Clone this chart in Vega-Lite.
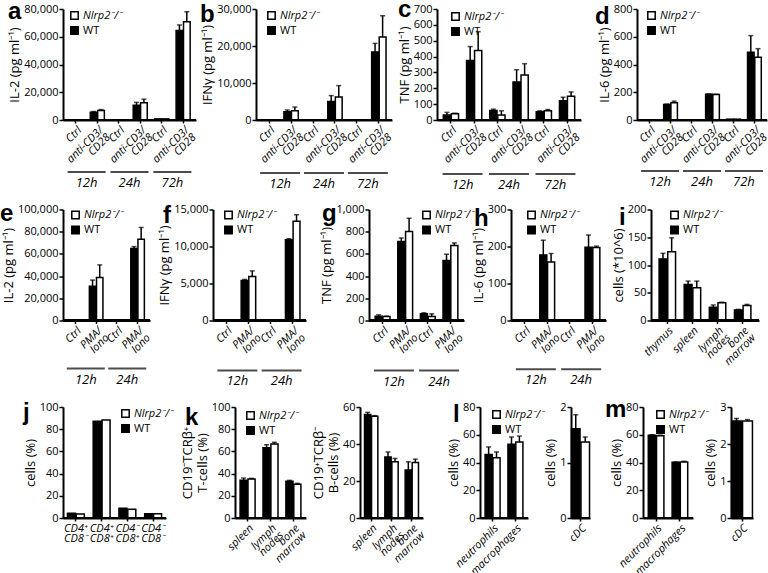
{
"$schema":"https://vega.github.io/schema/vega-lite/v6.json",
"padding":{"left":0,"top":-2,"right":0,"bottom":0},
"data":{"values":[
{"p":"a","c":"12h|Ctrl","t":"12h","g":"WT","v":0,"u":0},
{"p":"a","c":"12h|Ctrl","t":"12h","g":"KO","v":0,"u":0},
{"p":"a","c":"12h|anti-CD3/~CD28","t":"12h","g":"WT","v":5500,"u":6100},
{"p":"a","c":"12h|anti-CD3/~CD28","t":"12h","g":"KO","v":6800,"u":7500},
{"p":"a","c":"24h|Ctrl","t":"24h","g":"WT","v":0,"u":0},
{"p":"a","c":"24h|Ctrl","t":"24h","g":"KO","v":0,"u":0},
{"p":"a","c":"24h|anti-CD3/~CD28","t":"24h","g":"WT","v":10700,"u":12700},
{"p":"a","c":"24h|anti-CD3/~CD28","t":"24h","g":"KO","v":12400,"u":15000},
{"p":"a","c":"72h|Ctrl","t":"72h","g":"WT","v":800,"u":800},
{"p":"a","c":"72h|Ctrl","t":"72h","g":"KO","v":800,"u":800},
{"p":"a","c":"72h|anti-CD3/~CD28","t":"72h","g":"WT","v":64500,"u":68500},
{"p":"a","c":"72h|anti-CD3/~CD28","t":"72h","g":"KO","v":70900,"u":78000},
{"p":"b","c":"12h|Ctrl","t":"12h","g":"WT","v":0,"u":0},
{"p":"b","c":"12h|Ctrl","t":"12h","g":"KO","v":0,"u":0},
{"p":"b","c":"12h|anti-CD3/~CD28","t":"12h","g":"WT","v":2200,"u":2700},
{"p":"b","c":"12h|anti-CD3/~CD28","t":"12h","g":"KO","v":2500,"u":3500},
{"p":"b","c":"24h|Ctrl","t":"24h","g":"WT","v":0,"u":0},
{"p":"b","c":"24h|Ctrl","t":"24h","g":"KO","v":0,"u":0},
{"p":"b","c":"24h|anti-CD3/~CD28","t":"24h","g":"WT","v":5000,"u":6600},
{"p":"b","c":"24h|anti-CD3/~CD28","t":"24h","g":"KO","v":6200,"u":9300},
{"p":"b","c":"72h|Ctrl","t":"72h","g":"WT","v":0,"u":0},
{"p":"b","c":"72h|Ctrl","t":"72h","g":"KO","v":0,"u":0},
{"p":"b","c":"72h|anti-CD3/~CD28","t":"72h","g":"WT","v":18400,"u":20700},
{"p":"b","c":"72h|anti-CD3/~CD28","t":"72h","g":"KO","v":22400,"u":28200},
{"p":"c","c":"12h|Ctrl","t":"12h","g":"WT","v":31,"u":48},
{"p":"c","c":"12h|Ctrl","t":"12h","g":"KO","v":40,"u":43},
{"p":"c","c":"12h|anti-CD3/~CD28","t":"12h","g":"WT","v":376,"u":463},
{"p":"c","c":"12h|anti-CD3/~CD28","t":"12h","g":"KO","v":438,"u":557},
{"p":"c","c":"24h|Ctrl","t":"24h","g":"WT","v":60,"u":68},
{"p":"c","c":"24h|Ctrl","t":"24h","g":"KO","v":31,"u":58},
{"p":"c","c":"24h|anti-CD3/~CD28","t":"24h","g":"WT","v":240,"u":317},
{"p":"c","c":"24h|anti-CD3/~CD28","t":"24h","g":"KO","v":284,"u":355},
{"p":"c","c":"72h|Ctrl","t":"72h","g":"WT","v":52,"u":58},
{"p":"c","c":"72h|Ctrl","t":"72h","g":"KO","v":58,"u":66},
{"p":"c","c":"72h|anti-CD3/~CD28","t":"72h","g":"WT","v":121,"u":144},
{"p":"c","c":"72h|anti-CD3/~CD28","t":"72h","g":"KO","v":150,"u":177},
{"p":"d","c":"12h|Ctrl","t":"12h","g":"WT","v":0,"u":0},
{"p":"d","c":"12h|Ctrl","t":"12h","g":"KO","v":0,"u":0},
{"p":"d","c":"12h|anti-CD3/~CD28","t":"12h","g":"WT","v":111,"u":115},
{"p":"d","c":"12h|anti-CD3/~CD28","t":"12h","g":"KO","v":125,"u":136},
{"p":"d","c":"24h|Ctrl","t":"24h","g":"WT","v":0,"u":0},
{"p":"d","c":"24h|Ctrl","t":"24h","g":"KO","v":0,"u":0},
{"p":"d","c":"24h|anti-CD3/~CD28","t":"24h","g":"WT","v":186,"u":188},
{"p":"d","c":"24h|anti-CD3/~CD28","t":"24h","g":"KO","v":184,"u":186},
{"p":"d","c":"72h|Ctrl","t":"72h","g":"WT","v":6,"u":6},
{"p":"d","c":"72h|Ctrl","t":"72h","g":"KO","v":6,"u":6},
{"p":"d","c":"72h|anti-CD3/~CD28","t":"72h","g":"WT","v":488,"u":608},
{"p":"d","c":"72h|anti-CD3/~CD28","t":"72h","g":"KO","v":453,"u":514},
{"p":"e","c":"12h|Ctrl","t":"12h","g":"WT","v":0,"u":0},
{"p":"e","c":"12h|Ctrl","t":"12h","g":"KO","v":0,"u":0},
{"p":"e","c":"12h|PMA/~Iono","t":"12h","g":"WT","v":30750,"u":36400},
{"p":"e","c":"12h|PMA/~Iono","t":"12h","g":"KO","v":38800,"u":50100},
{"p":"e","c":"24h|Ctrl","t":"24h","g":"WT","v":0,"u":0},
{"p":"e","c":"24h|Ctrl","t":"24h","g":"KO","v":0,"u":0},
{"p":"e","c":"24h|PMA/~Iono","t":"24h","g":"WT","v":64800,"u":66600},
{"p":"e","c":"24h|PMA/~Iono","t":"24h","g":"KO","v":73100,"u":83800},
{"p":"f","c":"12h|Ctrl","t":"12h","g":"WT","v":0,"u":0},
{"p":"f","c":"12h|Ctrl","t":"12h","g":"KO","v":0,"u":0},
{"p":"f","c":"12h|PMA/~Iono","t":"12h","g":"WT","v":5400,"u":5550},
{"p":"f","c":"12h|PMA/~Iono","t":"12h","g":"KO","v":5950,"u":6700},
{"p":"f","c":"24h|Ctrl","t":"24h","g":"WT","v":0,"u":0},
{"p":"f","c":"24h|Ctrl","t":"24h","g":"KO","v":0,"u":0},
{"p":"f","c":"24h|PMA/~Iono","t":"24h","g":"WT","v":10900,"u":11050},
{"p":"f","c":"24h|PMA/~Iono","t":"24h","g":"KO","v":13400,"u":14300},
{"p":"g","c":"12h|Ctrl","t":"12h","g":"WT","v":39,"u":51},
{"p":"g","c":"12h|Ctrl","t":"12h","g":"KO","v":36,"u":39},
{"p":"g","c":"12h|PMA/~Iono","t":"12h","g":"WT","v":711,"u":744},
{"p":"g","c":"12h|PMA/~Iono","t":"12h","g":"KO","v":801,"u":921},
{"p":"g","c":"24h|Ctrl","t":"24h","g":"WT","v":60,"u":69},
{"p":"g","c":"24h|Ctrl","t":"24h","g":"KO","v":36,"u":60},
{"p":"g","c":"24h|PMA/~Iono","t":"24h","g":"WT","v":540,"u":597},
{"p":"g","c":"24h|PMA/~Iono","t":"24h","g":"KO","v":675,"u":699},
{"p":"h","c":"12h|Ctrl","t":"12h","g":"WT","v":0,"u":0},
{"p":"h","c":"12h|Ctrl","t":"12h","g":"KO","v":0,"u":0},
{"p":"h","c":"12h|PMA/~Iono","t":"12h","g":"WT","v":177,"u":217},
{"p":"h","c":"12h|PMA/~Iono","t":"12h","g":"KO","v":158,"u":181},
{"p":"h","c":"24h|Ctrl","t":"24h","g":"WT","v":0,"u":0},
{"p":"h","c":"24h|Ctrl","t":"24h","g":"KO","v":0,"u":0},
{"p":"h","c":"24h|PMA/~Iono","t":"24h","g":"WT","v":198,"u":231},
{"p":"h","c":"24h|PMA/~Iono","t":"24h","g":"KO","v":197,"u":201},
{"p":"i","c":"thymus","g":"WT","v":111,"u":121},
{"p":"i","c":"thymus","g":"KO","v":124,"u":149},
{"p":"i","c":"spleen","g":"WT","v":65,"u":71},
{"p":"i","c":"spleen","g":"KO","v":59,"u":71},
{"p":"i","c":"lymph~nodes","g":"WT","v":24,"u":28},
{"p":"i","c":"lymph~nodes","g":"KO","v":32,"u":33},
{"p":"i","c":"bone~marrow","g":"WT","v":19,"u":20},
{"p":"i","c":"bone~marrow","g":"KO","v":27,"u":29},
{"p":"j","c":"CD4⁺~CD8⁻","g":"WT","v":4.2,"u":4.2},
{"p":"j","c":"CD4⁺~CD8⁻","g":"KO","v":3.6,"u":3.6},
{"p":"j","c":"CD4⁺~CD8⁺","g":"WT","v":87.1,"u":87.1},
{"p":"j","c":"CD4⁺~CD8⁺","g":"KO","v":88.3,"u":88.3},
{"p":"j","c":"CD4⁻~CD8⁺","g":"WT","v":8.7,"u":8.7},
{"p":"j","c":"CD4⁻~CD8⁺","g":"KO","v":7.8,"u":7.8},
{"p":"j","c":"CD4⁻~CD8⁻","g":"WT","v":3.9,"u":3.9},
{"p":"j","c":"CD4⁻~CD8⁻","g":"KO","v":3.9,"u":3.9},
{"p":"k","c":"spleen","g":"WT","v":33.9,"u":36},
{"p":"k","c":"spleen","g":"KO","v":35.1,"u":35.7},
{"p":"k","c":"lymph~nodes","g":"WT","v":63.4,"u":66.1},
{"p":"k","c":"lymph~nodes","g":"KO","v":66.7,"u":68.2},
{"p":"k","c":"bone~marrow","g":"WT","v":33,"u":33.9},
{"p":"k","c":"bone~marrow","g":"KO","v":30.3,"u":31.2},
{"p":"k2","c":"spleen","g":"WT","v":55.9,"u":57.1},
{"p":"k2","c":"spleen","g":"KO","v":55,"u":55.3},
{"p":"k2","c":"lymph~nodes","g":"WT","v":33,"u":35.7},
{"p":"k2","c":"lymph~nodes","g":"KO","v":30.4,"u":32.2},
{"p":"k2","c":"bone~marrow","g":"WT","v":25.9,"u":30.4},
{"p":"k2","c":"bone~marrow","g":"KO","v":30,"u":31.8},
{"p":"l","c":"neutrophils","g":"WT","v":45.7,"u":51.2},
{"p":"l","c":"neutrophils","g":"KO","v":43.5,"u":47.6},
{"p":"l","c":"macrophages","g":"WT","v":53.1,"u":58.4},
{"p":"l","c":"macrophages","g":"KO","v":54.8,"u":59.1},
{"p":"l2","c":"cDC","g":"WT","v":1.61,"u":1.86},
{"p":"l2","c":"cDC","g":"KO","v":1.37,"u":1.46},
{"p":"m","c":"neutrophils","g":"WT","v":59.6,"u":60},
{"p":"m","c":"neutrophils","g":"KO","v":59.3,"u":59.7},
{"p":"m","c":"macrophages","g":"WT","v":40.1,"u":40.4},
{"p":"m","c":"macrophages","g":"KO","v":40.4,"u":40.9},
{"p":"m2","c":"cDC","g":"WT","v":2.62,"u":2.69},
{"p":"m2","c":"cDC","g":"KO","v":2.62,"u":2.66}
]},
"config":{
 "font":"Open Sans",
 "view":{"stroke":null},
 "axis":{"domain":true,"domainColor":"black","domainWidth":2,"ticks":true,"tickColor":"black","tickWidth":1.5,"tickSize":4,"labelColor":"black","titleColor":"black","labelFontSize":11,"titleFontSize":13,"titleFontWeight":"normal","grid":false,"labelPadding":2,"titlePadding":4},
 "axisY":{"labelPadding":1,"titlePadding":2},
 "axisX":{"labelFontStyle":"italic","labelFontSize":11,"labelLineHeight":10,"tickSize":3,"labelPadding":1},
 "legend":{"orient":"none","symbolType":"square","symbolSize":55,"symbolStrokeColor":"black","symbolStrokeWidth":1.5,"labelFontSize":11,"labelOffset":3,"rowPadding":0,"padding":0,"labelColor":"black","labelFontStyle":{"expr":"datum.value=='KO'?'italic':'normal'"}},
 "title":{"color":"black"}
},
"spacing":8.5,
"resolve":{"scale":{"fill":"independent","xOffset":"independent"},"legend":{"fill":"independent"}},
"vconcat":[
{"bounds":"flush","spacing":0,"resolve":{"scale":{"fill":"independent","xOffset":"independent"},"legend":{"fill":"independent"}},"hconcat":[
   {"width":133,"height":111,
    "title":{"text":"a","frame":"group","anchor":"start","orient":"none","offset":0,"baseline":"alphabetic","dx":-55,"dy":10,"fontSize":24,"fontWeight":"bold","font":"Liberation Sans"},
    "transform":[{"filter":"datum.p=='a'"}],
    "resolve":{"scale":{"x":"independent","y":"independent"}},
    "layer":[
     {"encoding":{"x":{"field":"c","type":"nominal","sort":null,"scale":{"paddingInner":0,"paddingOuter":0.1},"axis":{"title":null,"labelAngle":-45,"labelExpr":"split(split(datum.label,'|')[1],'~')"}},
                  "xOffset":{"field":"g","type":"nominal","sort":["WT","KO"],"scale":{"paddingInner":0.1,"paddingOuter":0.5}},
                  "y":{"field":"v","type":"quantitative","scale":{"domain":[0,80000],"nice":false},"axis":{"values":[0,20000,40000,60000,80000],"labelExpr":"format(datum.value, ',')","title":"IL-2 (pg ml⁻¹)"}}},
      "layer":[
       {"mark":{"type":"bar","stroke":"black","strokeWidth":1.5},"encoding":{"fill":{"field":"g","type":"nominal","scale":{"domain":["KO","WT"],"range":["white","black"]},"legend":{"title":null,"legendX":6,"legendY":1,"labelExpr":"datum.value=='KO'?'Nlrp2⁻/⁻':'WT'"}}}},
       {"transform":[{"filter":"datum.u > datum.v"}],"mark":{"type":"rule","strokeWidth":1.5,"color":"black"},"encoding":{"y2":{"field":"u"}}},
       {"transform":[{"filter":"datum.u > datum.v"}],"mark":{"type":"tick","thickness":1.5,"size":5,"color":"black"},"encoding":{"y":{"field":"u","type":"quantitative","scale":{"domain":[0,80000],"nice":false},"axis":{"values":[0,20000,40000,60000,80000],"labelExpr":"format(datum.value, ',')","title":"IL-2 (pg ml⁻¹)"}}}}
      ]},
     {"transform":[{"aggregate":[{"op":"count","as":"n"}],"groupby":["t"]}],
      "encoding":{"x":{"field":"t","type":"nominal","sort":["12h","24h","72h"],"axis":null,"scale":{"paddingInner":0,"paddingOuter":0.05}}},
      "layer":[
       {"mark":{"type":"tick","thickness":2,"size":38,"color":"black","clip":false},"encoding":{"y":{"datum":-37500,"type":"quantitative","scale":{"domain":[0,80000],"nice":false},"axis":null}}},
       {"mark":{"type":"text","fontStyle":"italic","fontSize":13,"baseline":"middle","clip":false},"encoding":{"y":{"datum":-45400,"type":"quantitative","scale":{"domain":[0,80000],"nice":false},"axis":null},"text":{"field":"t"}}}
      ]},
     {"mark":{"type":"rule","strokeWidth":2,"color":"black"},"encoding":{"y":{"datum":0,"type":"quantitative","scale":{"domain":[0,80000],"nice":false},"axis":null}}}
    ]},
   {"data":{"values":[{}]},"width":60,"height":111,"mark":{"type":"point","opacity":0},"encoding":{}},
   {"width":136,"height":111,
    "title":{"text":"b","frame":"group","anchor":"start","orient":"none","offset":0,"baseline":"alphabetic","dx":-56,"dy":13,"fontSize":24,"fontWeight":"bold","font":"Liberation Sans"},
    "transform":[{"filter":"datum.p=='b'"}],
    "resolve":{"scale":{"x":"independent","y":"independent"}},
    "layer":[
     {"encoding":{"x":{"field":"c","type":"nominal","sort":null,"scale":{"paddingInner":0,"paddingOuter":0.1},"axis":{"title":null,"labelAngle":-45,"labelExpr":"split(split(datum.label,'|')[1],'~')"}},
                  "xOffset":{"field":"g","type":"nominal","sort":["WT","KO"],"scale":{"paddingInner":0.1,"paddingOuter":0.5}},
                  "y":{"field":"v","type":"quantitative","scale":{"domain":[0,30000],"nice":false},"axis":{"values":[0,10000,20000,30000],"labelExpr":"format(datum.value, ',')","title":"IFNγ (pg ml⁻¹)"}}},
      "layer":[
       {"mark":{"type":"bar","stroke":"black","strokeWidth":1.5},"encoding":{"fill":{"field":"g","type":"nominal","scale":{"domain":["KO","WT"],"range":["white","black"]},"legend":{"title":null,"legendX":10,"legendY":1,"labelExpr":"datum.value=='KO'?'Nlrp2⁻/⁻':'WT'"}}}},
       {"transform":[{"filter":"datum.u > datum.v"}],"mark":{"type":"rule","strokeWidth":1.5,"color":"black"},"encoding":{"y2":{"field":"u"}}},
       {"transform":[{"filter":"datum.u > datum.v"}],"mark":{"type":"tick","thickness":1.5,"size":5,"color":"black"},"encoding":{"y":{"field":"u","type":"quantitative","scale":{"domain":[0,30000],"nice":false},"axis":{"values":[0,10000,20000,30000],"labelExpr":"format(datum.value, ',')","title":"IFNγ (pg ml⁻¹)"}}}}
      ]},
     {"transform":[{"aggregate":[{"op":"count","as":"n"}],"groupby":["t"]}],
      "encoding":{"x":{"field":"t","type":"nominal","sort":["12h","24h","72h"],"axis":null,"scale":{"paddingInner":0,"paddingOuter":0.05}}},
      "layer":[
       {"mark":{"type":"tick","thickness":2,"size":40,"color":"black","clip":false},"encoding":{"y":{"datum":-14300,"type":"quantitative","scale":{"domain":[0,30000],"nice":false},"axis":null}}},
       {"mark":{"type":"text","fontStyle":"italic","fontSize":13,"baseline":"middle","clip":false},"encoding":{"y":{"datum":-17300,"type":"quantitative","scale":{"domain":[0,30000],"nice":false},"axis":null},"text":{"field":"t"}}}
      ]},
     {"mark":{"type":"rule","strokeWidth":2,"color":"black"},"encoding":{"y":{"datum":0,"type":"quantitative","scale":{"domain":[0,30000],"nice":false},"axis":null}}}
    ]},
   {"data":{"values":[{}]},"width":45,"height":111,"mark":{"type":"point","opacity":0},"encoding":{}},
   {"width":144,"height":111,
    "title":{"text":"c","frame":"group","anchor":"start","orient":"none","offset":0,"baseline":"alphabetic","dx":-39,"dy":8,"fontSize":24,"fontWeight":"bold","font":"Liberation Sans"},
    "transform":[{"filter":"datum.p=='c'"}],
    "resolve":{"scale":{"x":"independent","y":"independent"}},
    "layer":[
     {"encoding":{"x":{"field":"c","type":"nominal","sort":null,"scale":{"paddingInner":0,"paddingOuter":0.1},"axis":{"title":null,"labelAngle":-45,"labelExpr":"split(split(datum.label,'|')[1],'~')"}},
                  "xOffset":{"field":"g","type":"nominal","sort":["WT","KO"],"scale":{"paddingInner":0.1,"paddingOuter":0.5}},
                  "y":{"field":"v","type":"quantitative","scale":{"domain":[0,700],"nice":false},"axis":{"values":[0,100,200,300,400,500,600,700],"labelExpr":"format(datum.value, ',')","title":"TNF (pg ml⁻¹)"}}},
      "layer":[
       {"mark":{"type":"bar","stroke":"black","strokeWidth":1.5},"encoding":{"fill":{"field":"g","type":"nominal","scale":{"domain":["KO","WT"],"range":["white","black"]},"legend":{"title":null,"legendX":13,"legendY":2,"labelExpr":"datum.value=='KO'?'Nlrp2⁻/⁻':'WT'"}}}},
       {"transform":[{"filter":"datum.u > datum.v"}],"mark":{"type":"rule","strokeWidth":1.5,"color":"black"},"encoding":{"y2":{"field":"u"}}},
       {"transform":[{"filter":"datum.u > datum.v"}],"mark":{"type":"tick","thickness":1.5,"size":5,"color":"black"},"encoding":{"y":{"field":"u","type":"quantitative","scale":{"domain":[0,700],"nice":false},"axis":{"values":[0,100,200,300,400,500,600,700],"labelExpr":"format(datum.value, ',')","title":"TNF (pg ml⁻¹)"}}}}
      ]},
     {"transform":[{"aggregate":[{"op":"count","as":"n"}],"groupby":["t"]}],
      "encoding":{"x":{"field":"t","type":"nominal","sort":["12h","24h","72h"],"axis":null,"scale":{"paddingInner":0,"paddingOuter":0.05}}},
      "layer":[
       {"mark":{"type":"tick","thickness":2,"size":40,"color":"black","clip":false},"encoding":{"y":{"datum":-340,"type":"quantitative","scale":{"domain":[0,700],"nice":false},"axis":null}}},
       {"mark":{"type":"text","fontStyle":"italic","fontSize":13,"baseline":"middle","clip":false},"encoding":{"y":{"datum":-410,"type":"quantitative","scale":{"domain":[0,700],"nice":false},"axis":null},"text":{"field":"t"}}}
      ]},
     {"mark":{"type":"rule","strokeWidth":2,"color":"black"},"encoding":{"y":{"datum":0,"type":"quantitative","scale":{"domain":[0,700],"nice":false},"axis":null}}}
    ]},
   {"data":{"values":[{}]},"width":56,"height":111,"mark":{"type":"point","opacity":0},"encoding":{}},
   {"width":130,"height":111,
    "title":{"text":"d","frame":"group","anchor":"start","orient":"none","offset":0,"baseline":"alphabetic","dx":-42,"dy":15,"fontSize":24,"fontWeight":"bold","font":"Liberation Sans"},
    "transform":[{"filter":"datum.p=='d'"}],
    "resolve":{"scale":{"x":"independent","y":"independent"}},
    "layer":[
     {"encoding":{"x":{"field":"c","type":"nominal","sort":null,"scale":{"paddingInner":0,"paddingOuter":0.1},"axis":{"title":null,"labelAngle":-45,"labelExpr":"split(split(datum.label,'|')[1],'~')"}},
                  "xOffset":{"field":"g","type":"nominal","sort":["WT","KO"],"scale":{"paddingInner":0.1,"paddingOuter":0.5}},
                  "y":{"field":"v","type":"quantitative","scale":{"domain":[0,800],"nice":false},"axis":{"values":[0,200,400,600,800],"labelExpr":"format(datum.value, ',')","title":"IL-6 (pg ml⁻¹)"}}},
      "layer":[
       {"mark":{"type":"bar","stroke":"black","strokeWidth":1.5},"encoding":{"fill":{"field":"g","type":"nominal","scale":{"domain":["KO","WT"],"range":["white","black"]},"legend":{"title":null,"legendX":9,"legendY":1,"labelExpr":"datum.value=='KO'?'Nlrp2⁻/⁻':'WT'"}}}},
       {"transform":[{"filter":"datum.u > datum.v"}],"mark":{"type":"rule","strokeWidth":1.5,"color":"black"},"encoding":{"y2":{"field":"u"}}},
       {"transform":[{"filter":"datum.u > datum.v"}],"mark":{"type":"tick","thickness":1.5,"size":5,"color":"black"},"encoding":{"y":{"field":"u","type":"quantitative","scale":{"domain":[0,800],"nice":false},"axis":{"values":[0,200,400,600,800],"labelExpr":"format(datum.value, ',')","title":"IL-6 (pg ml⁻¹)"}}}}
      ]},
     {"transform":[{"aggregate":[{"op":"count","as":"n"}],"groupby":["t"]}],
      "encoding":{"x":{"field":"t","type":"nominal","sort":["12h","24h","72h"],"axis":null,"scale":{"paddingInner":0,"paddingOuter":0.05}}},
      "layer":[
       {"mark":{"type":"tick","thickness":2,"size":38,"color":"black","clip":false},"encoding":{"y":{"datum":-368,"type":"quantitative","scale":{"domain":[0,800],"nice":false},"axis":null}}},
       {"mark":{"type":"text","fontStyle":"italic","fontSize":13,"baseline":"middle","clip":false},"encoding":{"y":{"datum":-447,"type":"quantitative","scale":{"domain":[0,800],"nice":false},"axis":null},"text":{"field":"t"}}}
      ]},
     {"mark":{"type":"rule","strokeWidth":2,"color":"black"},"encoding":{"y":{"datum":0,"type":"quantitative","scale":{"domain":[0,800],"nice":false},"axis":null}}}
    ]}
]},
{"bounds":"flush","spacing":0,"resolve":{"scale":{"fill":"independent","xOffset":"independent"},"legend":{"fill":"independent"}},"hconcat":[
   {"width":87,"height":111,
    "title":{"text":"e","frame":"group","anchor":"start","orient":"none","offset":0,"baseline":"alphabetic","dx":-63,"dy":11,"fontSize":24,"fontWeight":"bold","font":"Liberation Sans"},
    "transform":[{"filter":"datum.p=='e'"}],
    "resolve":{"scale":{"x":"independent","y":"independent"}},
    "layer":[
     {"encoding":{"x":{"field":"c","type":"nominal","sort":null,"scale":{"paddingInner":0,"paddingOuter":0.1},"axis":{"title":null,"labelAngle":-45,"labelExpr":"split(split(datum.label,'|')[1],'~')"}},
                  "xOffset":{"field":"g","type":"nominal","sort":["WT","KO"],"scale":{"paddingInner":0.1,"paddingOuter":0.5}},
                  "y":{"field":"v","type":"quantitative","scale":{"domain":[0,100000],"nice":false},"axis":{"values":[0,20000,40000,60000,80000,100000],"labelExpr":"format(datum.value, ',')","title":"IL-2 (pg ml⁻¹)"}}},
      "layer":[
       {"mark":{"type":"bar","stroke":"black","strokeWidth":1.5},"encoding":{"fill":{"field":"g","type":"nominal","scale":{"domain":["KO","WT"],"range":["white","black"]},"legend":{"title":null,"legendX":7,"legendY":0,"labelExpr":"datum.value=='KO'?'Nlrp2⁻/⁻':'WT'"}}}},
       {"transform":[{"filter":"datum.u > datum.v"}],"mark":{"type":"rule","strokeWidth":1.5,"color":"black"},"encoding":{"y2":{"field":"u"}}},
       {"transform":[{"filter":"datum.u > datum.v"}],"mark":{"type":"tick","thickness":1.5,"size":5,"color":"black"},"encoding":{"y":{"field":"u","type":"quantitative","scale":{"domain":[0,100000],"nice":false},"axis":{"values":[0,20000,40000,60000,80000,100000],"labelExpr":"format(datum.value, ',')","title":"IL-2 (pg ml⁻¹)"}}}}
      ]},
     {"transform":[{"aggregate":[{"op":"count","as":"n"}],"groupby":["t"]}],
      "encoding":{"x":{"field":"t","type":"nominal","sort":["12h","24h"],"axis":null,"scale":{"paddingInner":0,"paddingOuter":0.05}}},
      "layer":[
       {"mark":{"type":"tick","thickness":2,"size":38,"color":"black","clip":false},"encoding":{"y":{"datum":-43200,"type":"quantitative","scale":{"domain":[0,100000],"nice":false},"axis":null}}},
       {"mark":{"type":"text","fontStyle":"italic","fontSize":13,"baseline":"middle","clip":false},"encoding":{"y":{"datum":-53200,"type":"quantitative","scale":{"domain":[0,100000],"nice":false},"axis":null},"text":{"field":"t"}}}
      ]},
     {"mark":{"type":"rule","strokeWidth":2,"color":"black"},"encoding":{"y":{"datum":0,"type":"quantitative","scale":{"domain":[0,100000],"nice":false},"axis":null}}}
    ]},
   {"data":{"values":[{}]},"width":63,"height":111,"mark":{"type":"point","opacity":0},"encoding":{}},
   {"width":93,"height":111,
    "title":{"text":"f","frame":"group","anchor":"start","orient":"none","offset":0,"baseline":"alphabetic","dx":-50,"dy":13,"fontSize":24,"fontWeight":"bold","font":"Liberation Sans"},
    "transform":[{"filter":"datum.p=='f'"}],
    "resolve":{"scale":{"x":"independent","y":"independent"}},
    "layer":[
     {"encoding":{"x":{"field":"c","type":"nominal","sort":null,"scale":{"paddingInner":0,"paddingOuter":0.1},"axis":{"title":null,"labelAngle":-45,"labelExpr":"split(split(datum.label,'|')[1],'~')"}},
                  "xOffset":{"field":"g","type":"nominal","sort":["WT","KO"],"scale":{"paddingInner":0.1,"paddingOuter":0.5}},
                  "y":{"field":"v","type":"quantitative","scale":{"domain":[0,15000],"nice":false},"axis":{"values":[0,5000,10000,15000],"labelExpr":"format(datum.value, ',')","title":"IFNγ (pg ml⁻¹)"}}},
      "layer":[
       {"mark":{"type":"bar","stroke":"black","strokeWidth":1.5},"encoding":{"fill":{"field":"g","type":"nominal","scale":{"domain":["KO","WT"],"range":["white","black"]},"legend":{"title":null,"legendX":10,"legendY":0,"labelExpr":"datum.value=='KO'?'Nlrp2⁻/⁻':'WT'"}}}},
       {"transform":[{"filter":"datum.u > datum.v"}],"mark":{"type":"rule","strokeWidth":1.5,"color":"black"},"encoding":{"y2":{"field":"u"}}},
       {"transform":[{"filter":"datum.u > datum.v"}],"mark":{"type":"tick","thickness":1.5,"size":5,"color":"black"},"encoding":{"y":{"field":"u","type":"quantitative","scale":{"domain":[0,15000],"nice":false},"axis":{"values":[0,5000,10000,15000],"labelExpr":"format(datum.value, ',')","title":"IFNγ (pg ml⁻¹)"}}}}
      ]},
     {"transform":[{"aggregate":[{"op":"count","as":"n"}],"groupby":["t"]}],
      "encoding":{"x":{"field":"t","type":"nominal","sort":["12h","24h"],"axis":null,"scale":{"paddingInner":0,"paddingOuter":0.05}}},
      "layer":[
       {"mark":{"type":"tick","thickness":2,"size":40,"color":"black","clip":false},"encoding":{"y":{"datum":-6760,"type":"quantitative","scale":{"domain":[0,15000],"nice":false},"axis":null}}},
       {"mark":{"type":"text","fontStyle":"italic","fontSize":13,"baseline":"middle","clip":false},"encoding":{"y":{"datum":-8240,"type":"quantitative","scale":{"domain":[0,15000],"nice":false},"axis":null},"text":{"field":"t"}}}
      ]},
     {"mark":{"type":"rule","strokeWidth":2,"color":"black"},"encoding":{"y":{"datum":0,"type":"quantitative","scale":{"domain":[0,15000],"nice":false},"axis":null}}}
    ]},
   {"data":{"values":[{}]},"width":63,"height":111,"mark":{"type":"point","opacity":0},"encoding":{}},
   {"width":95,"height":111,
    "title":{"text":"g","frame":"group","anchor":"start","orient":"none","offset":0,"baseline":"alphabetic","dx":-47,"dy":11,"fontSize":24,"fontWeight":"bold","font":"Liberation Sans"},
    "transform":[{"filter":"datum.p=='g'"}],
    "resolve":{"scale":{"x":"independent","y":"independent"}},
    "layer":[
     {"encoding":{"x":{"field":"c","type":"nominal","sort":null,"scale":{"paddingInner":0,"paddingOuter":0.1},"axis":{"title":null,"labelAngle":-45,"labelExpr":"split(split(datum.label,'|')[1],'~')"}},
                  "xOffset":{"field":"g","type":"nominal","sort":["WT","KO"],"scale":{"paddingInner":0.1,"paddingOuter":0.5}},
                  "y":{"field":"v","type":"quantitative","scale":{"domain":[0,1000],"nice":false},"axis":{"values":[0,200,400,600,800,1000],"labelExpr":"format(datum.value, ',')","title":"TNF (pg ml⁻¹)"}}},
      "layer":[
       {"mark":{"type":"bar","stroke":"black","strokeWidth":1.5},"encoding":{"fill":{"field":"g","type":"nominal","scale":{"domain":["KO","WT"],"range":["white","black"]},"legend":{"title":null,"legendX":52,"legendY":0,"labelExpr":"datum.value=='KO'?'Nlrp2⁻/⁻':'WT'"}}}},
       {"transform":[{"filter":"datum.u > datum.v"}],"mark":{"type":"rule","strokeWidth":1.5,"color":"black"},"encoding":{"y2":{"field":"u"}}},
       {"transform":[{"filter":"datum.u > datum.v"}],"mark":{"type":"tick","thickness":1.5,"size":5,"color":"black"},"encoding":{"y":{"field":"u","type":"quantitative","scale":{"domain":[0,1000],"nice":false},"axis":{"values":[0,200,400,600,800,1000],"labelExpr":"format(datum.value, ',')","title":"TNF (pg ml⁻¹)"}}}}
      ]},
     {"transform":[{"aggregate":[{"op":"count","as":"n"}],"groupby":["t"]}],
      "encoding":{"x":{"field":"t","type":"nominal","sort":["12h","24h"],"axis":null,"scale":{"paddingInner":0,"paddingOuter":0.05}}},
      "layer":[
       {"mark":{"type":"tick","thickness":2,"size":40,"color":"black","clip":false},"encoding":{"y":{"datum":-450,"type":"quantitative","scale":{"domain":[0,1000],"nice":false},"axis":null}}},
       {"mark":{"type":"text","fontStyle":"italic","fontSize":13,"baseline":"middle","clip":false},"encoding":{"y":{"datum":-550,"type":"quantitative","scale":{"domain":[0,1000],"nice":false},"axis":null},"text":{"field":"t"}}}
      ]},
     {"mark":{"type":"rule","strokeWidth":2,"color":"black"},"encoding":{"y":{"datum":0,"type":"quantitative","scale":{"domain":[0,1000],"nice":false},"axis":null}}}
    ]},
   {"data":{"values":[{}]},"width":47,"height":111,"mark":{"type":"point","opacity":0},"encoding":{}},
   {"width":95,"height":111,
    "title":{"text":"h","frame":"group","anchor":"start","orient":"none","offset":0,"baseline":"alphabetic","dx":-37,"dy":16,"fontSize":24,"fontWeight":"bold","font":"Liberation Sans"},
    "transform":[{"filter":"datum.p=='h'"}],
    "resolve":{"scale":{"x":"independent","y":"independent"}},
    "layer":[
     {"encoding":{"x":{"field":"c","type":"nominal","sort":null,"scale":{"paddingInner":0,"paddingOuter":0.1},"axis":{"title":null,"labelAngle":-45,"labelExpr":"split(split(datum.label,'|')[1],'~')"}},
                  "xOffset":{"field":"g","type":"nominal","sort":["WT","KO"],"scale":{"paddingInner":0.1,"paddingOuter":0.5}},
                  "y":{"field":"v","type":"quantitative","scale":{"domain":[0,300],"nice":false},"axis":{"values":[0,100,200,300],"labelExpr":"format(datum.value, ',')","title":"IL-6 (pg ml⁻¹)"}}},
      "layer":[
       {"mark":{"type":"bar","stroke":"black","strokeWidth":1.5},"encoding":{"fill":{"field":"g","type":"nominal","scale":{"domain":["KO","WT"],"range":["white","black"]},"legend":{"title":null,"legendX":15,"legendY":0,"labelExpr":"datum.value=='KO'?'Nlrp2⁻/⁻':'WT'"}}}},
       {"transform":[{"filter":"datum.u > datum.v"}],"mark":{"type":"rule","strokeWidth":1.5,"color":"black"},"encoding":{"y2":{"field":"u"}}},
       {"transform":[{"filter":"datum.u > datum.v"}],"mark":{"type":"tick","thickness":1.5,"size":5,"color":"black"},"encoding":{"y":{"field":"u","type":"quantitative","scale":{"domain":[0,300],"nice":false},"axis":{"values":[0,100,200,300],"labelExpr":"format(datum.value, ',')","title":"IL-6 (pg ml⁻¹)"}}}}
      ]},
     {"transform":[{"aggregate":[{"op":"count","as":"n"}],"groupby":["t"]}],
      "encoding":{"x":{"field":"t","type":"nominal","sort":["12h","24h"],"axis":null,"scale":{"paddingInner":0,"paddingOuter":0.05}}},
      "layer":[
       {"mark":{"type":"tick","thickness":2,"size":40,"color":"black","clip":false},"encoding":{"y":{"datum":-132,"type":"quantitative","scale":{"domain":[0,300],"nice":false},"axis":null}}},
       {"mark":{"type":"text","fontStyle":"italic","fontSize":13,"baseline":"middle","clip":false},"encoding":{"y":{"datum":-162,"type":"quantitative","scale":{"domain":[0,300],"nice":false},"axis":null},"text":{"field":"t"}}}
      ]},
     {"mark":{"type":"rule","strokeWidth":2,"color":"black"},"encoding":{"y":{"datum":0,"type":"quantitative","scale":{"domain":[0,300],"nice":false},"axis":null}}}
    ]},
   {"data":{"values":[{}]},"width":45,"height":111,"mark":{"type":"point","opacity":0},"encoding":{}},
   {"width":108,"height":111,
    "title":{"text":"i","frame":"group","anchor":"start","orient":"none","offset":0,"baseline":"alphabetic","dx":-32,"dy":15,"fontSize":24,"fontWeight":"bold","font":"Liberation Sans"},
    "transform":[{"filter":"datum.p=='i'"}],
    "resolve":{"scale":{"y":"independent"}},
    "layer":[
     {"encoding":{"x":{"field":"c","type":"nominal","sort":null,"scale":{"paddingInner":0,"paddingOuter":0.15},"axis":{"title":null,"labelAngle":-45,"labelExpr":"split(datum.label,'~')"}},
                "xOffset":{"field":"g","type":"nominal","sort":["WT","KO"],"scale":{"paddingInner":0.1,"paddingOuter":0.5}},
                "y":{"field":"v","type":"quantitative","scale":{"domain":[0,200],"nice":false},"axis":{"values":[0,50,100,150,200],"labelExpr":"format(datum.value, ',')","title":"cells (*10^6)"}}},
      "layer":[
       {"mark":{"type":"bar","stroke":"black","strokeWidth":1.5},"encoding":{"fill":{"field":"g","type":"nominal","scale":{"domain":["KO","WT"],"range":["white","black"]},"legend":{"title":null,"legendX":18,"legendY":0,"labelExpr":"datum.value=='KO'?'Nlrp2⁻/⁻':'WT'"}}}},
       {"transform":[{"filter":"datum.u > datum.v"}],"mark":{"type":"rule","strokeWidth":1.5,"color":"black"},"encoding":{"y2":{"field":"u"}}},
       {"transform":[{"filter":"datum.u > datum.v"}],"mark":{"type":"tick","thickness":1.5,"size":5,"color":"black"},"encoding":{"y":{"field":"u","type":"quantitative","scale":{"domain":[0,200],"nice":false},"axis":{"values":[0,50,100,150,200],"labelExpr":"format(datum.value, ',')","title":"cells (*10^6)"}}}}
      ]},
     {"mark":{"type":"rule","strokeWidth":2,"color":"black"},"encoding":{"y":{"datum":0,"type":"quantitative","scale":{"domain":[0,200],"nice":false},"axis":null}}}
    ]}
]},
{"bounds":"flush","spacing":0,"resolve":{"scale":{"fill":"independent","xOffset":"independent"},"legend":{"fill":"independent"}},"hconcat":[
 {"width":103,"height":111,
  "title":{"text":"j","frame":"group","anchor":"start","orient":"none","offset":0,"baseline":"alphabetic","dx":-40,"dy":13,"fontSize":24,"fontWeight":"bold","font":"Liberation Sans"},
  "transform":[{"filter":"datum.p=='j'"}],
  "resolve":{"scale":{"y":"independent"}},
  "layer":[
   {"encoding":{"x":{"field":"c","type":"nominal","sort":null,"scale":{"paddingInner":0,"paddingOuter":0},"axis":{"title":null,"labelAngle":0,"labelExpr":"split(datum.label,'~')"}},
                "xOffset":{"field":"g","type":"nominal","sort":["WT","KO"],"scale":{"paddingInner":0.1,"paddingOuter":0.5}},
                "y":{"field":"v","type":"quantitative","scale":{"domain":[0,100],"nice":false},"axis":{"values":[0,20,40,60,80,100],"labelExpr":"format(datum.value, ',')","title":"cells (%)"}}},
    "layer":[
     {"mark":{"type":"bar","stroke":"black","strokeWidth":1.5},"encoding":{"fill":{"field":"g","type":"nominal","scale":{"domain":["KO","WT"],"range":["white","black"]},"legend":{"title":null,"legendX":57,"legendY":1,"labelExpr":"datum.value=='KO'?'Nlrp2⁻/⁻':'WT'"}}}}
    ]},
   {"mark":{"type":"rule","strokeWidth":2,"color":"black"},"encoding":{"y":{"datum":0,"type":"quantitative","scale":{"domain":[0,100],"nice":false},"axis":null}}}
  ]},
 {"data":{"values":[{}]},"width":69,"height":111,"mark":{"type":"point","opacity":0},"encoding":{}},
 {"width":71,"height":111,
  "title":{"text":"k","frame":"group","anchor":"start","orient":"none","offset":0,"baseline":"alphabetic","dx":-50,"dy":18,"fontSize":24,"fontWeight":"bold","font":"Liberation Sans"},
  "transform":[{"filter":"datum.p=='k'"}],
  "resolve":{"scale":{"y":"independent"}},
  "layer":[
   {"encoding":{"x":{"field":"c","type":"nominal","sort":null,"scale":{"paddingInner":0,"paddingOuter":0.05},"axis":{"title":null,"labelAngle":-45,"labelExpr":"split(datum.label,'~')"}},
                "xOffset":{"field":"g","type":"nominal","sort":["WT","KO"],"scale":{"paddingInner":0.1,"paddingOuter":0.5}},
                "y":{"field":"v","type":"quantitative","scale":{"domain":[0,100],"nice":false},"axis":{"values":[0,20,40,60,80,100],"labelExpr":"format(datum.value, ',')","title":["CD19⁻TCRβ⁺","T-cells (%)"]}}},
    "layer":[
     {"mark":{"type":"bar","stroke":"black","strokeWidth":1.5},"encoding":{"fill":{"field":"g","type":"nominal","scale":{"domain":["KO","WT"],"range":["white","black"]},"legend":{"title":null,"legendX":10,"legendY":3,"labelExpr":"datum.value=='KO'?'Nlrp2⁻/⁻':'WT'"}}}},
     {"transform":[{"filter":"datum.u > datum.v"}],"mark":{"type":"rule","strokeWidth":1.5,"color":"black"},"encoding":{"y2":{"field":"u"}}},
     {"transform":[{"filter":"datum.u > datum.v"}],"mark":{"type":"tick","thickness":1.5,"size":5,"color":"black"},"encoding":{"y":{"field":"u","type":"quantitative","scale":{"domain":[0,100],"nice":false},"axis":{"values":[0,20,40,60,80,100],"labelExpr":"format(datum.value, ',')","title":["CD19⁻TCRβ⁺","T-cells (%)"]}}}}
    ]},
   {"mark":{"type":"rule","strokeWidth":2,"color":"black"},"encoding":{"y":{"datum":0,"type":"quantitative","scale":{"domain":[0,100],"nice":false},"axis":null}}}
  ]},
 {"data":{"values":[{}]},"width":54,"height":111,"mark":{"type":"point","opacity":0},"encoding":{}},
 {"width":63,"height":111,
  "transform":[{"filter":"datum.p=='k2'"}],
  "resolve":{"scale":{"y":"independent"}},
  "layer":[
   {"encoding":{"x":{"field":"c","type":"nominal","sort":null,"scale":{"paddingInner":0,"paddingOuter":0.05},"axis":{"title":null,"labelAngle":-45,"labelExpr":"split(datum.label,'~')"}},
                "xOffset":{"field":"g","type":"nominal","sort":["WT","KO"],"scale":{"paddingInner":0.1,"paddingOuter":0.5}},
                "y":{"field":"v","type":"quantitative","scale":{"domain":[0,60],"nice":false},"axis":{"values":[0,20,40,60],"labelExpr":"format(datum.value, ',')","title":["CD19⁺TCRβ⁻","B-cells (%)"]}}},
    "layer":[
     {"mark":{"type":"bar","stroke":"black","strokeWidth":1.5},"encoding":{"fill":{"field":"g","type":"nominal","scale":{"domain":["KO","WT"],"range":["white","black"]},"legend":null}}},
     {"transform":[{"filter":"datum.u > datum.v"}],"mark":{"type":"rule","strokeWidth":1.5,"color":"black"},"encoding":{"y2":{"field":"u"}}},
     {"transform":[{"filter":"datum.u > datum.v"}],"mark":{"type":"tick","thickness":1.5,"size":5,"color":"black"},"encoding":{"y":{"field":"u","type":"quantitative","scale":{"domain":[0,60],"nice":false},"axis":{"values":[0,20,40,60],"labelExpr":"format(datum.value, ',')","title":["CD19⁺TCRβ⁻","B-cells (%)"]}}}}
    ]},
   {"mark":{"type":"rule","strokeWidth":2,"color":"black"},"encoding":{"y":{"datum":0,"type":"quantitative","scale":{"domain":[0,60],"nice":false},"axis":null}}}
  ]},
 {"data":{"values":[{}]},"width":57,"height":111,"mark":{"type":"point","opacity":0},"encoding":{}},
 {"width":48,"height":111,
  "title":{"text":"l","frame":"group","anchor":"start","orient":"none","offset":0,"baseline":"alphabetic","dx":-27,"dy":15,"fontSize":24,"fontWeight":"bold","font":"Liberation Sans"},
  "transform":[{"filter":"datum.p=='l'"}],
  "resolve":{"scale":{"y":"independent"}},
  "layer":[
   {"encoding":{"x":{"field":"c","type":"nominal","sort":null,"scale":{"paddingInner":0,"paddingOuter":0.05},"axis":{"title":null,"labelAngle":-45}},
                "xOffset":{"field":"g","type":"nominal","sort":["WT","KO"],"scale":{"paddingInner":0.1,"paddingOuter":0.5}},
                "y":{"field":"v","type":"quantitative","scale":{"domain":[0,80],"nice":false},"axis":{"values":[0,20,40,60,80],"labelExpr":"format(datum.value, ',')","title":"cells (%)"}}},
    "layer":[
     {"mark":{"type":"bar","stroke":"black","strokeWidth":1.5},"encoding":{"fill":{"field":"g","type":"nominal","scale":{"domain":["KO","WT"],"range":["white","black"]},"legend":{"title":null,"legendX":11,"legendY":2,"labelExpr":"datum.value=='KO'?'Nlrp2⁻/⁻':'WT'"}}}},
     {"transform":[{"filter":"datum.u > datum.v"}],"mark":{"type":"rule","strokeWidth":1.5,"color":"black"},"encoding":{"y2":{"field":"u"}}},
     {"transform":[{"filter":"datum.u > datum.v"}],"mark":{"type":"tick","thickness":1.5,"size":5,"color":"black"},"encoding":{"y":{"field":"u","type":"quantitative","scale":{"domain":[0,80],"nice":false},"axis":{"values":[0,20,40,60,80],"labelExpr":"format(datum.value, ',')","title":"cells (%)"}}}}
    ]},
   {"mark":{"type":"rule","strokeWidth":2,"color":"black"},"encoding":{"y":{"datum":0,"type":"quantitative","scale":{"domain":[0,80],"nice":false},"axis":null}}}
  ]},
 {"data":{"values":[{}]},"width":43,"height":111,"mark":{"type":"point","opacity":0},"encoding":{}},
 {"width":19,"height":111,
  "transform":[{"filter":"datum.p=='l2'"}],
  "resolve":{"scale":{"y":"independent"}},
  "layer":[
   {"encoding":{"x":{"field":"c","type":"nominal","sort":null,"scale":{"paddingInner":0,"paddingOuter":0},"axis":{"title":null,"labelAngle":-45}},
                "xOffset":{"field":"g","type":"nominal","sort":["WT","KO"],"scale":{"paddingInner":0.1,"paddingOuter":0.05}},
                "y":{"field":"v","type":"quantitative","scale":{"domain":[0,2],"nice":false},"axis":{"values":[0,1,2],"labelExpr":"format(datum.value, ',')","title":"cells (%)"}}},
    "layer":[
     {"mark":{"type":"bar","stroke":"black","strokeWidth":1.5},"encoding":{"fill":{"field":"g","type":"nominal","scale":{"domain":["KO","WT"],"range":["white","black"]},"legend":null}}},
     {"transform":[{"filter":"datum.u > datum.v"}],"mark":{"type":"rule","strokeWidth":1.5,"color":"black"},"encoding":{"y2":{"field":"u"}}},
     {"transform":[{"filter":"datum.u > datum.v"}],"mark":{"type":"tick","thickness":1.5,"size":5,"color":"black"},"encoding":{"y":{"field":"u","type":"quantitative","scale":{"domain":[0,2],"nice":false},"axis":{"values":[0,1,2],"labelExpr":"format(datum.value, ',')","title":"cells (%)"}}}}
    ]},
   {"mark":{"type":"rule","strokeWidth":2,"color":"black"},"encoding":{"y":{"datum":0,"type":"quantitative","scale":{"domain":[0,2],"nice":false},"axis":null}}}
  ]},
 {"data":{"values":[{}]},"width":53,"height":111,"mark":{"type":"point","opacity":0},"encoding":{}},
 {"width":50,"height":111,
  "title":{"text":"m","frame":"group","anchor":"start","orient":"none","offset":0,"baseline":"alphabetic","dx":-38,"dy":10,"fontSize":24,"fontWeight":"bold","font":"Liberation Sans"},
  "transform":[{"filter":"datum.p=='m'"}],
  "resolve":{"scale":{"y":"independent"}},
  "layer":[
   {"encoding":{"x":{"field":"c","type":"nominal","sort":null,"scale":{"paddingInner":0,"paddingOuter":0.05},"axis":{"title":null,"labelAngle":-45}},
                "xOffset":{"field":"g","type":"nominal","sort":["WT","KO"],"scale":{"paddingInner":0.1,"paddingOuter":0.5}},
                "y":{"field":"v","type":"quantitative","scale":{"domain":[0,80],"nice":false},"axis":{"values":[0,20,40,60,80],"labelExpr":"format(datum.value, ',')","title":"cells (%)"}}},
    "layer":[
     {"mark":{"type":"bar","stroke":"black","strokeWidth":1.5},"encoding":{"fill":{"field":"g","type":"nominal","scale":{"domain":["KO","WT"],"range":["white","black"]},"legend":{"title":null,"legendX":12,"legendY":2,"labelExpr":"datum.value=='KO'?'Nlrp2⁻/⁻':'WT'"}}}},
     {"transform":[{"filter":"datum.u > datum.v"}],"mark":{"type":"rule","strokeWidth":1.5,"color":"black"},"encoding":{"y2":{"field":"u"}}},
     {"transform":[{"filter":"datum.u > datum.v"}],"mark":{"type":"tick","thickness":1.5,"size":5,"color":"black"},"encoding":{"y":{"field":"u","type":"quantitative","scale":{"domain":[0,80],"nice":false},"axis":{"values":[0,20,40,60,80],"labelExpr":"format(datum.value, ',')","title":"cells (%)"}}}}
    ]},
   {"mark":{"type":"rule","strokeWidth":2,"color":"black"},"encoding":{"y":{"datum":0,"type":"quantitative","scale":{"domain":[0,80],"nice":false},"axis":null}}}
  ]},
 {"data":{"values":[{}]},"width":38,"height":111,"mark":{"type":"point","opacity":0},"encoding":{}},
 {"width":22,"height":111,
  "transform":[{"filter":"datum.p=='m2'"}],
  "resolve":{"scale":{"y":"independent"}},
  "layer":[
   {"encoding":{"x":{"field":"c","type":"nominal","sort":null,"scale":{"paddingInner":0,"paddingOuter":0},"axis":{"title":null,"labelAngle":-45}},
                "xOffset":{"field":"g","type":"nominal","sort":["WT","KO"],"scale":{"paddingInner":0.1,"paddingOuter":0.05}},
                "y":{"field":"v","type":"quantitative","scale":{"domain":[0,3],"nice":false},"axis":{"values":[0,1,2,3],"labelExpr":"format(datum.value, ',')","title":"cells (%)"}}},
    "layer":[
     {"mark":{"type":"bar","stroke":"black","strokeWidth":1.5},"encoding":{"fill":{"field":"g","type":"nominal","scale":{"domain":["KO","WT"],"range":["white","black"]},"legend":null}}},
     {"transform":[{"filter":"datum.u > datum.v"}],"mark":{"type":"rule","strokeWidth":1.5,"color":"black"},"encoding":{"y2":{"field":"u"}}},
     {"transform":[{"filter":"datum.u > datum.v"}],"mark":{"type":"tick","thickness":1.5,"size":5,"color":"black"},"encoding":{"y":{"field":"u","type":"quantitative","scale":{"domain":[0,3],"nice":false},"axis":{"values":[0,1,2,3],"labelExpr":"format(datum.value, ',')","title":"cells (%)"}}}}
    ]},
   {"mark":{"type":"rule","strokeWidth":2,"color":"black"},"encoding":{"y":{"datum":0,"type":"quantitative","scale":{"domain":[0,3],"nice":false},"axis":null}}}
  ]}
]}
]
}
